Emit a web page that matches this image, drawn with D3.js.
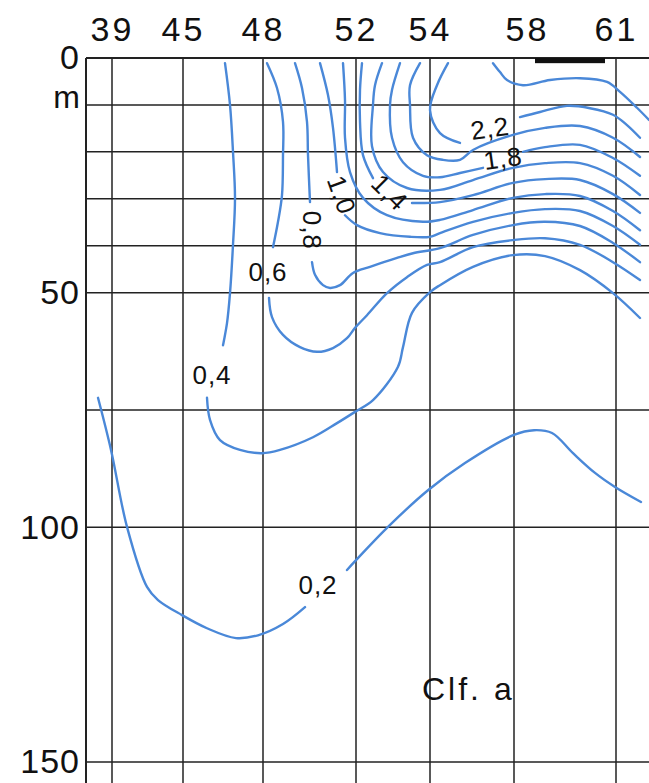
<!DOCTYPE html>
<html>
<head>
<meta charset="utf-8">
<script src="https://cdn.jsdelivr.net/npm/d3@7"></script>
<style>
body { margin: 0; background: #fff; }
svg { display: block; font-family: "Liberation Sans", Arial, Helvetica, sans-serif; }
</style>
</head>
<body>
<svg id="chart" width="649" height="783"></svg>
<script>
// Stations along the section and their distance (km) from station 39
var stations = ['39', '45', '48', '52', '54', '58', '61'];
var stationKm = [0, 35.5, 75.5, 122, 159, 201, 252];

// Depth axis (m)
var depthTicks = [0, 50, 100, 150];
var depthGrid = [0, 10, 20, 30, 40, 50, 75, 100, 150];
var depthUnit = 'm';
var chartTitle = 'Clf. a';

// Black bar on top of the section (km range)
var topBarKm = [211.5, 246.5];

// Isolines of chlorophyll a, [km, depth m]; a line is cut where its label sits
var iso02 = [
	[[-7,72.4],[-0.5,83.5],[7.5,99.9],[17.5,112.7],[23,115.5],[35,118.7],[47.5,121.5],[62,123.6],[73,123.0],[85.5,120.6],[96.5,117.0]],
	[[117.5,109.1],[122,107.0],[138,99.9],[158,92.1],[176.5,86.3],[201,80.3],[211,79.3],[220,79.9],[230.5,84.2],[241.5,88.4],[251.5,91.4],[264.5,94.6]]
];
var iso04 = [
	[[56.5,1.1],[59,10],[60.5,20],[61.5,29.8],[60.5,39.8],[59,50.1],[57.5,56.5],[55.5,61.2]],
	[[47.5,72.4],[49,77.1],[54,81.4],[64,83.5],[75,84.2],[84,83.5],[100.5,80.8],[112.5,77.8],[121.5,75.4],[130.5,72.9],[143,65.8],[145.5,61.6],[150,54.3],[159,49.9],[164,48.4],[180.5,44.5],[200.5,42.0],[216.5,42.2],[234,45.2],[250.5,50.1],[264,55.4]]
];
var iso06 = [
	[[77.5,1.1],[82.5,6.4],[85.5,13.6],[85.5,20.7],[85,29.2],[83,34.9],[80.5,40.3]],
	[[78.5,51.1],[80,55.2],[85.5,59.0],[94,61.6],[102.5,62.6],[110.5,61.8],[117.5,59.7],[121.5,57.5],[127.5,54.8],[137.5,50.1],[147.5,46.7],[157.5,44.1],[164,43.5],[180.5,40.3],[200.5,38.8],[216.5,38.4],[234,39.8],[250.5,43.5],[264,47.3]]
];
var iso08 = [
	[[91.5,1.1],[95,6.4],[97.5,13.6],[98,20.7],[99,30.7]],
	[[100,43.5],[101.5,46.2],[105.5,48.4],[109,49.0],[114,48.4],[120.5,45.8],[129,44.5],[142.5,42.6],[150.5,41.6],[164,40.5],[180.5,37.7],[200.5,35.6],[216.5,34.9],[234,35.8],[250.5,39.4],[264,43.5]]
];
var iso10 = [
	[[104,1.1],[108,7.9],[110.5,14.9],[112.5,24.3]],
	[[116.5,33.5],[122.5,35.6],[134,37.3],[149,38.1],[159,38.1],[164,37.3],[180.5,34.9],[200.5,33.0],[216.5,32.2],[234,32.6],[250.5,35.8],[264,39.8]]
];
var iso12 = [
	[[115.5,1.1],[116.5,9.0],[116.5,17.0],[119,24.3],[125.5,29.8],[137.5,33.5],[155.5,34.9],[164,34.5],[180.5,32.4],[200.5,29.8],[216.5,29.0],[234,29.4],[250.5,32.6],[264,36.7]]
];
var iso14 = [
	[[125,1.1],[124,6.8],[124,13.6],[125.5,20.7],[130.5,25.6]],
	[[150,30.9],[164,30.7],[180.5,29.2],[200.5,26.6],[216.5,25.8],[234,26.0],[250.5,29.0],[264,33.0]]
];
var iso16 = [
	[[135,1.1],[131.5,5.8],[130.5,10.0],[130,18.8],[135.5,24.3],[147.5,27.7],[164,28.1],[180.5,26.0],[200.5,23.4],[216.5,22.4],[234,22.4],[250.5,25.1],[264,29.2]]
];
var iso18 = [
	[[144,1.1],[140,6.8],[139,10.0],[140,17.0],[145.5,22.2],[155.5,25.1],[164,25.4],[174,24.5],[185.5,23.4]],
	[[205.5,20.0],[216.5,19.0],[234,18.5],[250.5,21.3],[264,25.1]]
];
var iso20 = [
	[[154,1.1],[149,5.8],[149,10.0],[150.5,17.0],[157.5,20.7],[165.5,21.7],[174,21.7],[180.5,19.6],[200.5,16.4],[216.5,14.9],[234,14.5],[250.5,17.0],[264,21.1]]
];
var iso22 = [
	[[168,1.1],[162.5,5.8],[159,11.1],[164,16.0],[174,18.1]],
	[[204,12.6],[214,11.5],[227.5,10.2],[239,10.7],[250.5,12.1],[257.5,14.3],[264,17.0]]
];
var iso24 = [
	[[190.5,1.1],[194,3.0],[197.5,4.7],[205.5,5.8],[219,4.7],[234,4.3],[247.5,5.1],[254,7.2],[262.5,10.6],[268.5,13.2]]
];
var isolines = [iso02, iso04, iso06, iso08, iso10, iso12, iso14, iso16, iso18, iso20, iso22, iso24];

// Isoline labels: text, km, depth, rotation
var isoLabelText = ['0,2', '0,4', '0,6', '0,8', '1,0', '1,4', '1,8', '2,2'];
var isoLabelKm = [103, 50, 78, 100, 115, 139, 195.5, 189];
var isoLabelDepth = [112.3, 67.5, 45.6, 36.7, 29.2, 28.6, 21.3, 14.9];
var isoLabelRot = [0, 0, 0, 90, 70, 45, -8, -8];

var svg = d3.select('#chart');
var W = +svg.attr('width'), H = +svg.attr('height');

svg.append('rect').attr('width', W).attr('height', H).attr('fill', '#fff');

var x = d3.scaleLinear().domain([-13, 270]).range([86, 652]);
var y = d3.scaleLinear().domain([0, 150]).range([58, 762]);

var gridColor = '#222';
var lineColor = '#4a88d8';
var labelFont = '"Liberation Sans", Arial, sans-serif';

// Grid
var grid = svg.append('g').attr('class', 'grid');
grid.selectAll('line.v').data(stationKm).enter().append('line').
	attr('class', 'v').
	attr('x1', function(d) { return x(d); }).attr('x2', function(d) { return x(d); }).
	attr('y1', y(0)).attr('y2', H).
	attr('stroke', gridColor).attr('stroke-width', 1.5);
grid.selectAll('line.h').data(depthGrid).enter().append('line').
	attr('class', 'h').
	attr('x1', x.range()[0]).attr('x2', W).
	attr('y1', function(d) { return y(d); }).attr('y2', function(d) { return y(d); }).
	attr('stroke', gridColor).attr('stroke-width', function(d) { return d === 0 ? 2 : 1.5; });
// frame left edge
grid.append('line').
	attr('x1', x.range()[0]).attr('x2', x.range()[0]).attr('y1', y(0)).attr('y2', H).
	attr('stroke', gridColor).attr('stroke-width', 2);

// Top bar
svg.append('rect').
	attr('x', x(topBarKm[0])).attr('y', y(0)).
	attr('width', x(topBarKm[1]) - x(topBarKm[0])).attr('height', y(1.1) - y(0)).
	attr('fill', '#111');

// Isolines
var line = d3.line().
	x(function(d) { return x(d[0]); }).
	y(function(d) { return y(d[1]); }).
	curve(d3.curveCatmullRom.alpha(0.5));

var iso = svg.append('g').attr('class', 'isolines');
isolines.forEach(function(segs) {
	iso.selectAll(null).data(segs).enter().append('path').
		attr('d', line).
		attr('fill', 'none').attr('stroke', lineColor).
		attr('stroke-width', 2.4).attr('stroke-linecap', 'round');
});

// Isoline labels
svg.append('g').selectAll('text').data(isoLabelText).enter().append('text').
	attr('transform', function(d, i) {
		return 'translate(' + x(isoLabelKm[i]) + ',' + y(isoLabelDepth[i]) + ') rotate(' + isoLabelRot[i] + ')';
	}).
	attr('text-anchor', 'middle').attr('dy', '0.36em').
	style('font-size', '26px').style('letter-spacing', '1px').attr('fill', '#111').
	text(function(d) { return d; });

// Station axis (top)
var xAxis = d3.axisTop(x).tickValues(stationKm).
	tickFormat(function(d, i) { return stations[i]; }).tickSize(0).tickPadding(0);
var gx = svg.append('g').attr('transform', 'translate(0,41)').call(xAxis);
gx.select('.domain').remove();
gx.selectAll('text').
	style('font-size', '34px').style('font-family', labelFont).
	style('letter-spacing', '3px').attr('fill', '#111').
	attr('dx', function(d, i) { return stations[i] === '58' ? 13 : 0; });

// Depth axis (left)
var yAxis = d3.axisLeft(y).tickValues(depthTicks).tickSize(0).tickPadding(0);
var gy = svg.append('g').attr('transform', 'translate(80,0)').call(yAxis);
gy.select('.domain').remove();
gy.selectAll('text').
	style('font-size', '34px').style('font-family', labelFont).
	style('letter-spacing', '1px').attr('fill', '#111');
gy.append('text').attr('x', 0).attr('y', y(10)).attr('dy', '0.1em').
	attr('text-anchor', 'end').attr('fill', '#111').
	style('font-size', '32px').style('font-family', labelFont).
	text(depthUnit);

// Title
svg.append('text').attr('x', x(155)).attr('y', y(136.8)).
	style('font-size', '32px').style('letter-spacing', '3px').attr('fill', '#111').
	text(chartTitle);
</script>
</body>
</html>
